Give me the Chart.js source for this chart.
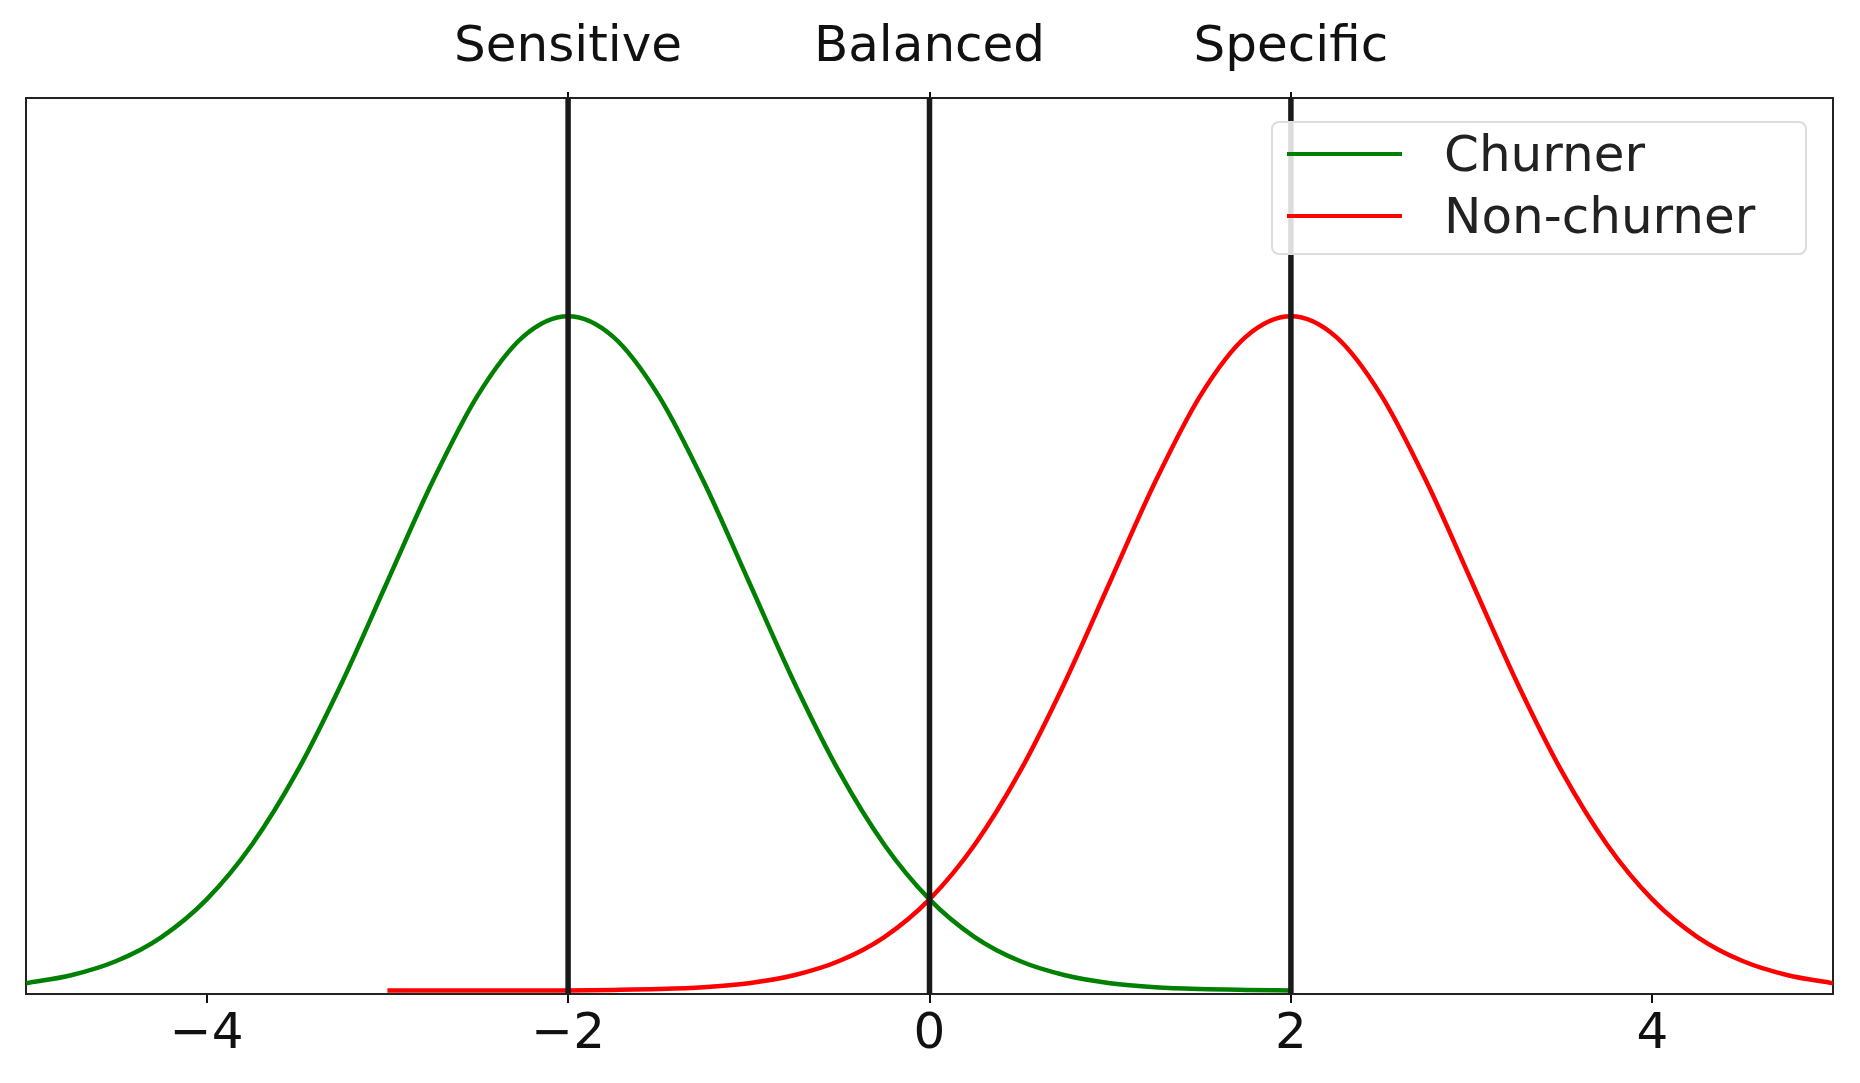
<!DOCTYPE html>
<html><head><meta charset="utf-8">
<script src="https://cdn.jsdelivr.net/npm/chart.js@4/dist/chart.umd.min.js"></script>
<style>
html,body{margin:0;padding:0;background:#fff;}
#wrap{position:relative;width:1860px;height:1083px;}
#legend{position:absolute;left:1271px;top:121px;width:536px;height:134px;border:2px solid #ddd;border-radius:8px;background:rgba(255,255,255,0.85);font-family:"DejaVu Sans";font-size:50px;color:#222;box-sizing:border-box;}
.row{position:absolute;left:14px;display:flex;align-items:center;}
.sw{width:115px;height:4px;margin-right:42px;}
</style></head><body>
<div id="wrap"><canvas id="c" width="1860" height="1083"></canvas>
<div id="legend">
<div class="row" style="top:2px"><div class="sw" style="background:#008000"></div>Churner</div>
<div class="row" style="top:64px"><div class="sw" style="background:#ff0000"></div>Non-churner</div>
</div></div>
<script>
const churnerX = [-5,-4.75,-4.5,-4.25,-4,-3.75,-3.5,-3.25,-3,-2.75,-2.5,-2.25,-2,-1.75,-1.5,-1.25,-1,-0.75,-0.5,-0.25,0,0.25,0.5,0.75,1,1.25,1.5,1.75,2];
const churnerY = [0.0044,0.0091,0.0175,0.0317,0.054,0.0863,0.1295,0.1826,0.242,0.3011,0.3521,0.3867,0.3989,0.3867,0.3521,0.3011,0.242,0.1826,0.1295,0.0863,0.054,0.0317,0.0175,0.0091,0.0044,0.002,0.0009,0.0004,0.0001];
const nonX = [-3,-2.75,-2.5,-2.25,-2,-1.75,-1.5,-1.25,-1,-0.75,-0.5,-0.25,0,0.25,0.5,0.75,1,1.25,1.5,1.75,2,2.25,2.5,2.75,3,3.25,3.5,3.75,4,4.25,4.5,4.75,5];
const nonY = [0,0,0,0,0.0001,0.0004,0.0009,0.002,0.0044,0.0091,0.0175,0.0317,0.054,0.0863,0.1295,0.1826,0.242,0.3011,0.3521,0.3867,0.3989,0.3867,0.3521,0.3011,0.242,0.1826,0.1295,0.0863,0.054,0.0317,0.0175,0.0091,0.0044];
const thresholds = [-2,0,2];
const thresholdLabels = ['Sensitive','Balanced','Specific'];
const xTicks = [-4,-2,0,2,4];
const yMin = -0.002, yMax = 0.528;

const vlines = thresholds.map(t => ({type:'line', data:[{x:t,y:yMin},{x:t,y:yMax}], borderColor:'#1a1a1a', borderWidth:5.5, pointRadius:0, order:0}));
new Chart(document.getElementById('c'), {
  type:'line',
  data:{datasets:[
    {data:churnerX.map((x,i)=>({x,y:churnerY[i]})), borderColor:'#008000', borderWidth:4.5, pointRadius:0, cubicInterpolationMode:'monotone', order:2},
    {data:nonX.map((x,i)=>({x,y:nonY[i]})), borderColor:'#ff0000', borderWidth:4.5, pointRadius:0, cubicInterpolationMode:'monotone', order:1},
    ...vlines
  ]},
  options:{
    responsive:false, animation:false, devicePixelRatio:1,
    layout:{padding:{right:27,left:0,top:0,bottom:0}},
    plugins:{legend:{display:false},tooltip:{enabled:false}},
    scales:{
      x:{type:'linear',min:-5,max:5,position:'bottom',
        afterBuildTicks:s=>{s.ticks=xTicks.map(v=>({value:v}));},
        afterFit:s=>{s.height=89;},
        ticks:{color:'#111',font:{family:'DejaVu Sans',size:50},padding:2,callback:v=>String(v).replace('-','\u2212')},
        grid:{display:true,drawOnChartArea:false,drawTicks:true,tickLength:9,color:'#111',lineWidth:2},
        border:{display:true,color:'#222',width:2}},
      x2:{type:'linear',min:-5,max:5,position:'top',
        afterBuildTicks:s=>{s.ticks=thresholds.map(v=>({value:v}));},
        afterFit:s=>{s.height=98;},
        ticks:{color:'#111',font:{family:'DejaVu Sans',size:50},padding:14,callback:(v)=>thresholdLabels[thresholds.indexOf(v)]},
        grid:{display:true,drawOnChartArea:false,drawTicks:true,tickLength:6,color:'#111',lineWidth:2},
        border:{display:true,color:'#222',width:2}},
      y:{min:yMin,max:yMax,position:'left',afterFit:s=>{s.width=26;},
        ticks:{display:false},grid:{display:false},border:{display:true,color:'#222',width:2}},
      y2:{min:yMin,max:yMax,position:'right',afterFit:s=>{s.width=0;},
        ticks:{display:false},grid:{display:false},border:{display:true,color:'#222',width:2}}
    }
  }
});
</script></body></html>
